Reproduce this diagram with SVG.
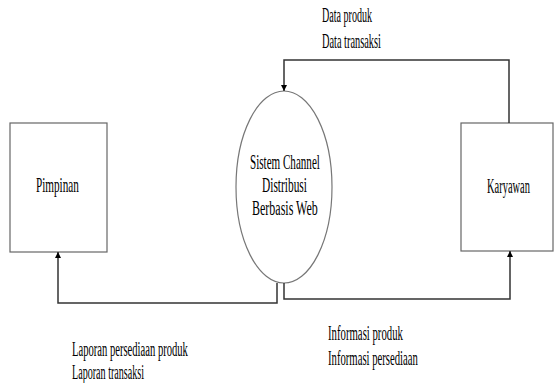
<svg xmlns="http://www.w3.org/2000/svg" width="554" height="383" viewBox="0 0 554 383">
<style>
text{font-family:"Liberation Serif","Times New Roman",serif;font-size:20px;fill:#000}
.box{fill:#fff;stroke:#666;stroke-width:1.2}
.proc{fill:#fff;stroke:#777;stroke-width:1.2}
.flow{fill:none;stroke:#333;stroke-width:1.5}
</style>
<defs>
<marker id="ah" viewBox="0 0 10 10" refX="10" refY="5" markerWidth="6" markerHeight="8" markerUnits="userSpaceOnUse" orient="auto">
<path d="M0,0 L10,5 L0,10 z" fill="#000"/>
</marker>
</defs>
<g id="pimpinan">
<rect class="box" x="10" y="123" width="97" height="129"/>
<text transform="translate(36,192) scale(0.56,1)">Pimpinan</text>
</g>
<g id="karyawan">
<rect class="box" x="461" y="123" width="92" height="128"/>
<text transform="translate(487,193) scale(0.523,1)">Karyawan</text>
</g>
<g id="sistem">
<ellipse class="proc" cx="284" cy="187" rx="48" ry="96"/>
<text transform="translate(250,169) scale(0.555,1)">Sistem Channel</text>
<text transform="translate(262,192) scale(0.57,1)">Distribusi</text>
<text transform="translate(252,215) scale(0.6,1)">Berbasis Web</text>
</g>
<g id="connectors">
<path class="flow" d="M509,123 V60 H284 V91" marker-end="url(#ah)"/>
<path class="flow" d="M277,283 V303 H58 V252" marker-end="url(#ah)"/>
<path class="flow" d="M284,283 V299 H510 V251" marker-end="url(#ah)"/>
</g>
<g id="labels">
<text transform="translate(322,22) scale(0.503,1)">Data produk</text>
<text transform="translate(322,48) scale(0.518,1)">Data transaksi</text>
<text transform="translate(72,356) scale(0.53,1)">Laporan persediaan produk</text>
<text transform="translate(72,379) scale(0.505,1)">Laporan transaksi</text>
<text transform="translate(328,340) scale(0.538,1)">Informasi produk</text>
<text transform="translate(328,365) scale(0.535,1)">Informasi persediaan</text>
</g>
</svg>
